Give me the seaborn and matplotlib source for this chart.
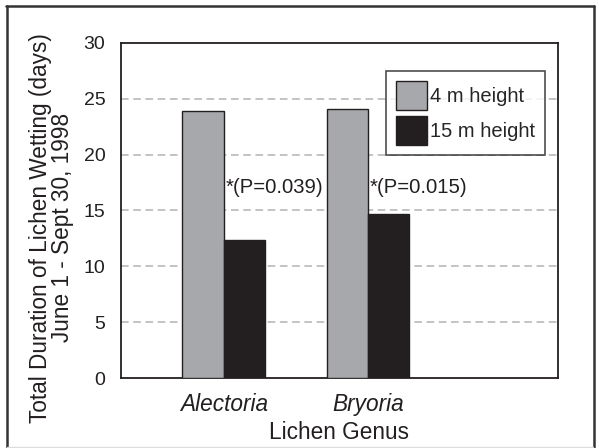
import matplotlib
matplotlib.use("Agg")
import matplotlib.pyplot as plt
import seaborn as sns
import pandas as pd
from matplotlib.lines import Line2D

genera = ["Alectoria", "Bryoria"]
heights = ["4 m height", "15 m height"]
values_4m = [23.9, 24.05]
values_15m = [12.35, 14.7]
pvals = ["*(P=0.039)", "*(P=0.015)"]
yticks = [0, 5, 10, 15, 20, 25, 30]

df = pd.DataFrame({
    "genus": genera * 2,
    "height": [heights[0]] * 2 + [heights[1]] * 2,
    "days": values_4m + values_15m,
})

sns.set_style("white")
plt.rcParams["font.family"] = ["Liberation Sans", "DejaVu Sans"]

W, H = 599, 448
fig = plt.figure(figsize=(W / 100, H / 100), dpi=100)
ax = fig.add_axes([120.7 / W, 1 - 378.3 / H, 437 / W, 335.6 / H])

palette = {heights[0]: "#a7a8ab", heights[1]: "#231f20"}
sns.barplot(data=df, x="genus", y="days", hue="height", palette=palette,
            width=0.576, edgecolor="#231f20", linewidth=1.0, ax=ax,
            saturation=1, zorder=3)

ax.set_xlim(-0.717, 2.317)
ax.set_ylim(0, 30)
ax.set_yticks(yticks)
ax.set_yticklabels([str(t) for t in yticks], fontsize=14, color="#231f20")
ax.tick_params(axis="y", length=0, pad=11)
ax.tick_params(axis="x", length=0, pad=10.5)
for lbl in ax.get_xticklabels():
    lbl.set_fontstyle("italic")
    lbl.set_fontsize(16.3)
    lbl.set_color("#231f20")

for t in yticks[1:-1]:
    ax.axhline(t, color="#b3b3b3", linestyle=(0, (5, 3)), linewidth=1.1, zorder=1)

for s in ax.spines.values():
    s.set_visible(True)
    s.set_color("#231f20")
    s.set_linewidth(1.3)

ax.set_xlabel("Lichen Genus", fontsize=16.3, color="#231f20", labelpad=3.5)
ax.set_ylabel("Total Duration of Lichen Wetting (days)\nJune 1 - Sept 30, 1998",
              fontsize=16.3, color="#231f20", linespacing=0.95)
ax.yaxis.set_label_coords(-0.106, 0.449)

for i, txt in enumerate(pvals):
    ax.text(i + 0.01, 17.1, txt, fontsize=14.6, color="#231f20", va="center", ha="left",
            zorder=4)

leg = ax.legend(loc="upper right", bbox_to_anchor=(0.971, 0.9157), fontsize=14.5,
                frameon=True, fancybox=False, edgecolor="#231f20",
                handlelength=1.55, handleheight=1.85, handletextpad=0.15,
                borderpad=0.5, labelspacing=0.3, borderaxespad=0)
leg.get_frame().set_linewidth(1.2)
leg.set_zorder(5)

def fig_line(x0, y0, x1, y1, color, lw):
    fig.add_artist(Line2D([x0 / W, x1 / W], [1 - y0 / H, 1 - y1 / H],
                          transform=fig.transFigure, color=color, linewidth=lw))

fig_line(7, 6, 7, 448, "#333333", 1.8)
fig_line(6, 6, 594, 6, "#333333", 1.8)
fig_line(593.5, 6, 593.5, 448, "#333333", 1.8)
fig_line(7, 446.5, 593, 446.5, "#dddddd", 1.0)

fig.savefig("out.png", dpi=100)
